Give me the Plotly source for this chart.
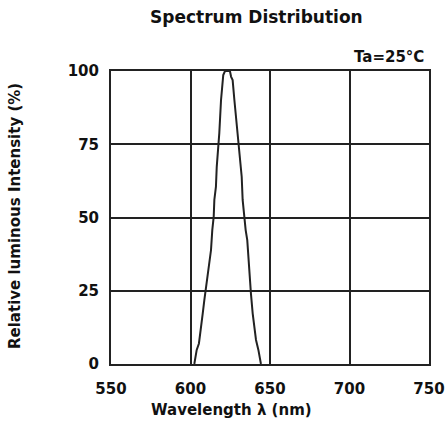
import plotly.graph_objects as go

wavelength = [602.4, 603.9, 605.3, 606.4, 607.7, 608.7, 609.8, 610.8, 611.8, 612.9,
              613.7, 614.6, 615.0, 616.0, 616.5, 617.3, 618.1, 619.2, 620.2, 620.6,
              621.7, 624.8, 625.5, 626.5, 627.6, 629.0, 630.1, 631.1, 632.2, 632.8,
              633.9, 634.7, 635.7, 636.4, 637.4, 638.0, 639.1, 640.0, 641.2, 642.7,
              643.7, 644.3]
intensity = [0, 4.8, 7.0, 12.7, 17.3, 21.8, 26.4, 29.8, 35.5, 38.9,
             45.7, 50.3, 56.0, 60.5, 67.3, 73.0, 78.7, 90.1, 96.9, 98.6,
             100, 100, 98.1, 96.9, 90.1, 82.1, 74.2, 69.6, 63.9, 56.0,
             49.1, 45.7, 42.3, 35.5, 29.8, 24.1, 17.3, 12.7, 8.2, 4.8,
             2.5, 0]
x_ticks = [550, 600, 650, 700, 750]
y_ticks = [0, 25, 50, 75, 100]

title_text = "Spectrum Distribution"
cond_text = "Ta=25°C"
x_title = "Wavelength λ (nm)"
y_title = "Relative luminous Intensity (%)"

FONT = "DejaVu Sans, Liberation Sans, sans-serif"
ink = "#222222"

fig = go.Figure()
fig.add_trace(go.Scatter(x=wavelength, y=intensity, mode="lines",
                         line=dict(color=ink, width=2), showlegend=False))

fig.update_layout(
    width=446, height=434,
    margin=dict(l=111, r=17, t=71, b=70),
    paper_bgcolor="white", plot_bgcolor="white",
    font=dict(family=FONT, color="#111111", size=14),
    xaxis=dict(range=[550, 750], tickvals=x_ticks, ticktext=[str(v) for v in x_ticks],
               showgrid=True, gridcolor=ink, gridwidth=1.6, zeroline=False,
               showline=True, linecolor=ink, linewidth=2, mirror=True, automargin=False,
               ticks="", ticklen=0, ticklabelstandoff=10,
               tickfont=dict(size=15, family=FONT, weight="bold")),
    yaxis=dict(range=[0, 100], tickvals=y_ticks, ticktext=[str(v) for v in y_ticks],
               showgrid=True, gridcolor=ink, gridwidth=1.6, zeroline=False,
               showline=True, linecolor=ink, linewidth=2, mirror=True, automargin=False,
               ticks="", ticklen=0, ticklabelstandoff=7,
               tickfont=dict(size=15, family=FONT, weight="bold")),
    annotations=[
        dict(text="<b>" + title_text + "</b>", xref="paper", yref="paper",
             x=(256 - 111) / 318, y=1 + (71 - 17) / 293, xanchor="center", yanchor="middle",
             showarrow=False, font=dict(size=17, family=FONT)),
        dict(text="<b>" + cond_text + "</b>", xref="paper", yref="paper",
             x=(426 - 111) / 318, y=1 + (71 - 57) / 293, xanchor="right", yanchor="middle",
             showarrow=False, font=dict(size=15, family=FONT)),
        dict(text="<b>" + x_title + "</b>", xref="paper", yref="paper",
             x=(231 - 111) / 318, y=-(410 - 364) / 293, xanchor="center", yanchor="middle",
             showarrow=False, font=dict(size=15, family=FONT)),
        dict(text="<b>" + y_title + "</b>", xref="paper", yref="paper",
             x=-(111 - 15) / 318, y=(364 - 216) / 293, xanchor="center", yanchor="middle",
             textangle=-90, showarrow=False, font=dict(size=15, family=FONT)),
    ],
)

fig.write_html("out.html")
